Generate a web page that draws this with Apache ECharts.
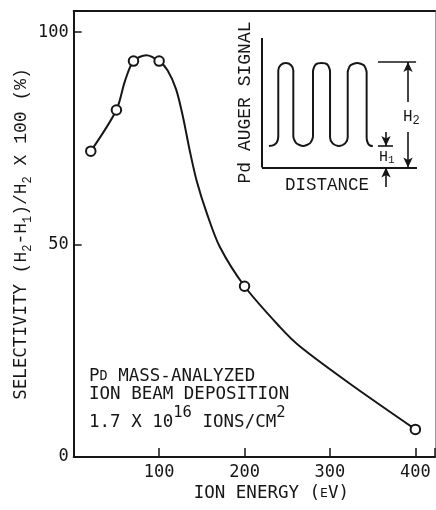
<!DOCTYPE html>
<html><head><meta charset="utf-8">
<script src="https://cdn.jsdelivr.net/npm/echarts@6/dist/echarts.min.js"></script>
<style>html,body{margin:0;padding:0;background:#fff}#c{width:436px;height:510px}</style>
</head><body><div id="c"></div>
<script>
// ---- main chart data ----
const energyPoints = [20, 50, 70, 100, 200, 400];
const selectivityPoints = [72, 81.7, 93.2, 93.2, 40.2, 6.5];
const curveEnergy = [20, 50, 60, 70, 85, 100, 110, 120, 128, 136, 144, 156, 171, 200, 241, 265, 323, 400];
const curveSelectivity = [72, 81.7, 88.5, 93.2, 94.6, 93.2, 91, 86.5, 80, 72, 65, 57.3, 49.5, 40.2, 30.7, 26, 17.3, 6.5];
const xTickLabels = [100, 200, 300, 400];
const yTickLabels = [0, 50, 100];

// ---- inset schematic (Pd Auger signal vs distance) ----
const waveX = [4.5, 7.5, 9.6, 10.5, 10.5, 11.92, 15.35, 18.78, 20.2, 20.2, 22.06, 26.55, 31.04, 32.9, 32.9, 34.51, 38.4, 42.29, 43.9, 43.9, 45.57, 49.6, 53.63, 55.3, 55.3, 57.09, 61.4, 65.71, 67.5, 67.5, 68.4, 70, 71.5];
const waveY = [16.6, 17.3, 19.5, 24, 74.9, 79.0, 80.7, 79.0, 74.9, 24.2, 18.8, 16.6, 18.8, 24.2, 74.1, 79.4, 80.7, 79.4, 74.1, 23.4, 18.6, 16.6, 18.6, 23.4, 73.4, 78.9, 80.7, 78.9, 73.4, 23, 18.5, 16.8, 16.6];
// segments: [x1, y1, x2, y2, arrowAtEnd]
const insetSegments = [
  [0, 0, 0, 100, false],
  [0, 0, 100, 0, false],
  [74.8, 81.5, 99.4, 81.5, false],
  [94.2, 50.6, 94.2, 81.5, true],
  [94.2, 27.4, 94.2, 0, true],
  [74.8, 16.6, 84.5, 16.6, false],
  [80, 27.4, 80, 16.6, true],
  [80, -15, 80, 0, true]
];

const MONO_SANS = '"DejaVu Sans Mono", monospace';
const MONO_SERIF = '"Liberation Mono", "Courier New", monospace';
const INK = '#161616';

const chart = echarts.init(document.getElementById('c'), null, {renderer: 'canvas'});

const option = {
  backgroundColor: '#ffffff',
  animation: false,
  grid: [
    {left: 73.7, top: 11, right: 1, bottom: 53, containLabel: false, outerBoundsMode: 'none'},
    {left: 262, top: 38, width: 155, height: 155.4, containLabel: false, outerBoundsMode: 'none'}
  ],
  xAxis: [
    {
      type: 'value', gridIndex: 0, min: 0, max: 423, interval: 100,
      name: '{n|ION ENERGY (}{s|E}{n|V)}',
      nameLocation: 'middle', nameGap: 25, nameMoveOverlap: false,
      nameTextStyle: {
        padding: [0, 0, 0, 34],
        rich: {
          n: {fontFamily: MONO_SANS, fontSize: 17.5, color: INK, lineHeight: 20, verticalAlign: 'bottom'},
          s: {fontFamily: MONO_SANS, fontSize: 13, color: INK, lineHeight: 20, verticalAlign: 'bottom', padding: [0, 0, 2, 0]}
        }
      },
      axisLine: {show: true, onZero: false, lineStyle: {color: INK, width: 2}},
      axisTick: {show: true, inside: true, length: 9, lineStyle: {color: INK, width: 1.5}},
      axisLabel: {
        margin: 7, fontFamily: MONO_SANS, fontSize: 17, color: INK,
        formatter: v => xTickLabels.includes(v) ? String(v) : ''
      },
      splitLine: {show: false}
    },
    {
      type: 'value', gridIndex: 0, position: 'top', min: 0, max: 423,
      axisLine: {show: true, onZero: false, lineStyle: {color: INK, width: 2}},
      axisTick: {show: false}, axisLabel: {show: false}, splitLine: {show: false}
    },
    {type: 'value', gridIndex: 1, min: 0, max: 100, show: false}
  ],
  yAxis: [
    {
      type: 'value', gridIndex: 0, min: 0, max: 105, interval: 50,
      name: '{a|SELECTIVITY }{b|(H}{s|2}{b|-H}{s|1}{b|)/H}{s|2}{b| X 100 (%)}',
      nameLocation: 'middle', nameRotate: 90, nameGap: 40, nameMoveOverlap: false,
      nameTextStyle: {
        rich: {
          a: {fontFamily: MONO_SANS, fontSize: 17.5, color: INK, lineHeight: 24, verticalAlign: 'middle'},
          b: {fontFamily: MONO_SERIF, fontSize: 18, color: INK, lineHeight: 24, verticalAlign: 'middle'},
          s: {fontFamily: MONO_SERIF, fontSize: 12, color: INK, lineHeight: 24, verticalAlign: 'bottom'}
        }
      },
      axisLine: {show: true, onZero: false, lineStyle: {color: INK, width: 2}},
      axisTick: {show: true, inside: true, length: 8, lineStyle: {color: INK, width: 1.5}},
      axisLabel: {
        margin: 5, fontFamily: MONO_SANS, fontSize: 17, color: INK,
        formatter: v => yTickLabels.includes(v) ? String(v) : ''
      },
      splitLine: {show: false}
    },
    {
      type: 'value', gridIndex: 0, position: 'right', min: 0, max: 105,
      axisLine: {show: true, onZero: false, lineStyle: {color: '#9a9a9a', width: 1}},
      axisTick: {show: false}, axisLabel: {show: false}, splitLine: {show: false}
    },
    {type: 'value', gridIndex: 1, min: -20, max: 100, show: false}
  ],
  series: [
    {
      type: 'line', xAxisIndex: 0, yAxisIndex: 0,
      data: curveEnergy.map((x, i) => [x, curveSelectivity[i]]),
      smooth: 0.3, showSymbol: false, silent: true,
      lineStyle: {color: INK, width: 2}
    },
    {
      type: 'scatter', xAxisIndex: 0, yAxisIndex: 0,
      data: energyPoints.map((x, i) => [x, selectivityPoints[i]]),
      symbol: 'circle', symbolSize: 9.5, silent: true,
      itemStyle: {color: '#ffffff', borderColor: INK, borderWidth: 2, opacity: 1},
      z: 5
    },
    {
      type: 'line', xAxisIndex: 2, yAxisIndex: 2,
      data: waveX.map((x, i) => [x, waveY[i]]),
      smooth: 0.25, showSymbol: false, silent: true,
      lineStyle: {color: INK, width: 2},
      markLine: {
        silent: true, animation: false,
        label: {show: false},
        symbolSize: [7, 10],
        lineStyle: {color: INK, width: 1.6, type: 'solid'},
        emphasis: {disabled: true},
        data: insetSegments.map(s => [
          {coord: [s[0], s[1]], symbol: 'none'},
          {coord: [s[2], s[3]], symbol: s[4] ? 'arrow' : 'none', lineStyle: {width: (s[0] === 0 && s[2] === 0) || (s[1] === 0 && s[3] === 0) ? 2 : 1.6}}
        ])
      }
    }
  ],
  graphic: [
    {type: 'text', x: 245, y: 102.5, rotation: Math.PI / 2, silent: true,
      style: {text: 'Pd AUGER SIGNAL', fontFamily: MONO_SERIF, fontSize: 18, fill: INK, align: 'center', verticalAlign: 'middle'}},
    {type: 'text', x: 327, y: 185, silent: true,
      style: {text: 'DISTANCE', fontFamily: MONO_SERIF, fontSize: 17.5, fill: INK, align: 'center', verticalAlign: 'middle'}},
    {type: 'text', x: 403, y: 117, silent: true,
      style: {text: '{h|H}{s|2}', align: 'left', verticalAlign: 'middle',
        rich: {h: {fontFamily: MONO_SERIF, fontSize: 16, fill: INK, lineHeight: 20, verticalAlign: 'middle'},
               s: {fontFamily: MONO_SERIF, fontSize: 12, fill: INK, lineHeight: 20, verticalAlign: 'bottom'}}}},
    {type: 'text', x: 379, y: 157, silent: true,
      style: {text: '{h|H}{s|1}', align: 'left', verticalAlign: 'middle',
        rich: {h: {fontFamily: MONO_SERIF, fontSize: 15, fill: INK, lineHeight: 18, verticalAlign: 'middle'},
               s: {fontFamily: MONO_SERIF, fontSize: 11, fill: INK, lineHeight: 18, verticalAlign: 'bottom'}}}},
    {type: 'text', x: 89, y: 375, silent: true,
      style: {text: '{n|P}{c|D}{n| MASS-ANALYZED}', align: 'left', verticalAlign: 'middle',
        rich: {n: {fontFamily: MONO_SANS, fontSize: 17.5, fill: INK, lineHeight: 20, verticalAlign: 'bottom'},
               c: {fontFamily: MONO_SANS, fontSize: 13.5, fill: INK, lineHeight: 20, verticalAlign: 'bottom', padding: [0, 0, 2, 0]}}}},
    {type: 'text', x: 89, y: 394, silent: true,
      style: {text: 'ION BEAM DEPOSITION', fontFamily: MONO_SANS, fontSize: 17.5, fill: INK, align: 'left', verticalAlign: 'middle'}},
    {type: 'text', x: 89, y: 418, silent: true,
      style: {text: '{n|1.7 X 10}{p|16}{n| IONS/CM}{p|2}', align: 'left', verticalAlign: 'middle',
        rich: {n: {fontFamily: MONO_SANS, fontSize: 17.5, fill: INK, lineHeight: 26, verticalAlign: 'bottom'},
               p: {fontFamily: MONO_SANS, fontSize: 15.5, fill: INK, lineHeight: 26, verticalAlign: 'top'}}}}
  ]
};
chart.setOption(option);
</script>
</body></html>
